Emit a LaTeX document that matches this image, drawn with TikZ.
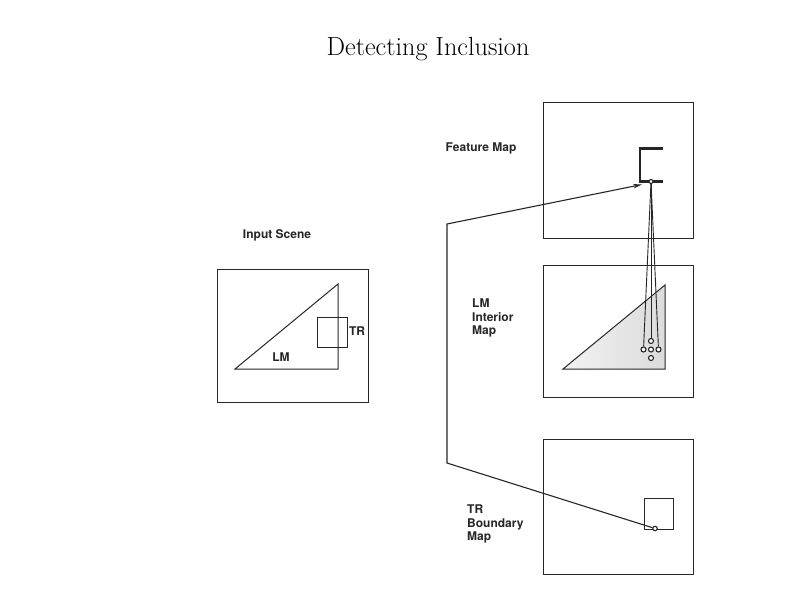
\documentclass[tikz,border=0pt]{standalone}
\usepackage{fontspec}
\setsansfont{TeX Gyre Heros}
\usetikzlibrary{arrows.meta}
\tikzset{
  mapbox/.style={draw=black!85, line width=1pt},
  shape line/.style={draw=black!85, line width=1pt},
  cbar/.style={draw=black!85, line width=2.2pt},
  dotc/.style={circle, draw=black!85, line width=1.1pt, inner sep=0pt, minimum size=5pt, fill=white},
  lab/.style={font=\sffamily\bfseries\fontsize{12}{13.5}\selectfont, text=black!85, inner sep=0pt},
  labml/.style={lab, align=left, anchor=north west},
  conn/.style={draw=black!85, line width=1.1pt},
}
\begin{document}
\begin{tikzpicture}[x=1pt,y=-1pt]
\useasboundingbox (0,0) rectangle (800,600);
% title
\node[anchor=base, inner sep=0pt, font=\fontsize{26.2}{30}\selectfont] (title) at (428,55) {Detecting Inclusion};

% Input scene
\node[lab] (inlab) at (277,235) {Input Scene};
\draw[mapbox] (217,269) rectangle (368,402);
\draw[shape line] (235,369) -- (338,284) -- (338,369) -- cycle;
\draw[shape line] (317,317) rectangle (347,347);
\node[lab] (trlab) at (357,331) {TR};
\node[lab] (lmlab) at (281,357) {LM};

% Feature map
\node[lab] (fmlab) at (481,148) {Feature Map};
\draw[mapbox] (543,102) rectangle (693,238);
\draw[cbar] (663,148.5) -- (640,148.5) -- (640,181.5) -- (663,181.5);
\node[dotc, minimum size=4pt] (fc) at (651,181.5) {};

% LM interior map
\node[labml] (lmi) at (472,299) {LM\\Interior\\Map};
\draw[mapbox] (543,265) rectangle (693,397);
\shade[left color=gray!10, right color=gray!28, draw=black!85, line width=1pt]
  (563,369) -- (665,285) -- (665,369) -- cycle;
\node[dotc] (c1) at (651,341) {};
\node[dotc] (c2) at (643.5,349.5) {};
\node[dotc] (c3) at (651,349.5) {};
\node[dotc] (c4) at (658.5,349.5) {};
\node[dotc] (c5) at (651,358) {};
\draw[conn, line width=0.9pt] (fc) -- (c2);
\draw[conn, line width=0.9pt] (fc) -- (c1);
\draw[conn, line width=0.9pt] (fc) -- (c4);

% TR boundary map
\node[labml] (trb) at (467,505) {TR\\Boundary\\Map};
\draw[mapbox] (543,439) rectangle (693,574);
\draw[shape line] (644.5,498) rectangle (673.5,529);
\node[dotc, minimum size=4.5pt] (bc) at (655,528.5) {};

% connector
\coordinate (k1) at (447,463);
\coordinate (k2) at (447,224);
\coordinate (tip) at (642,184.5);
\draw[conn, -{Stealth[length=9pt,width=4.5pt]}] (bc) -- (k1) -- (k2) -- (tip);
\end{tikzpicture}
\end{document}
